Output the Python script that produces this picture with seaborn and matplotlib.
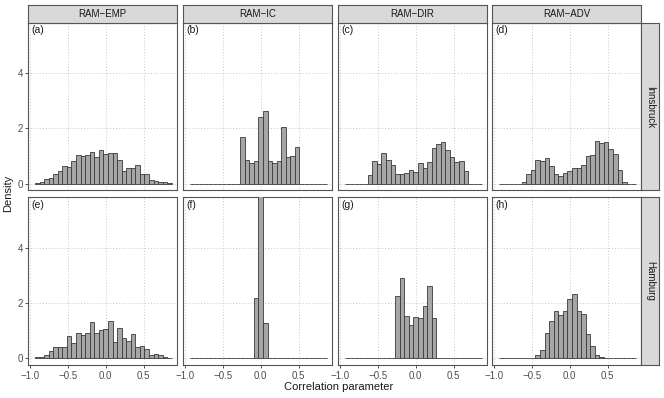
import numpy as np
import pandas as pd
import matplotlib
matplotlib.use("Agg")
import matplotlib.pyplot as plt
import seaborn as sns

# ---------------- data ----------------
methods = ["RAM\u2212EMP", "RAM\u2212IC", "RAM\u2212DIR", "RAM\u2212ADV"]
stations = ["Innsbruck", "Hamburg"]
tags = [["(a)", "(b)", "(c)", "(d)"], ["(e)", "(f)", "(g)", "(h)"]]

bin_centers = [-0.90, -0.84, -0.78, -0.72, -0.66, -0.60, -0.54, -0.48, -0.42, -0.36,
               -0.30, -0.24, -0.18, -0.12, -0.06, 0.00, 0.06, 0.12, 0.18, 0.24,
               0.30, 0.36, 0.42, 0.48, 0.54, 0.60, 0.66, 0.72, 0.78, 0.84]
bin_width = 0.06

innsbruck_emp = [0.03, 0.04, 0.15, 0.22, 0.34, 0.44, 0.62, 0.60, 0.81, 1.02,
                 0.99, 1.05, 1.15, 0.96, 1.22, 1.07, 1.11, 1.11, 0.86, 0.45,
                 0.55, 0.55, 0.69, 0.35, 0.35, 0.12, 0.11, 0.07, 0.05, 0.02]
innsbruck_ic = [0, 0, 0, 0, 0, 0, 0, 0, 0, 0,
                0, 1.68, 0.87, 0.76, 0.81, 2.40, 2.63, 0.81, 0.76, 0.81,
                2.05, 0.96, 1.01, 1.32, 0, 0, 0, 0, 0, 0]
innsbruck_dir = [0, 0, 0, 0, 0, 0.30, 0.82, 0.70, 1.12, 0.86,
                 0.69, 0.34, 0.34, 0.38, 0.50, 0.41, 0.75, 0.56, 0.78, 1.28,
                 1.42, 1.49, 1.20, 0.97, 0.80, 0.81, 0.47, 0, 0, 0]
innsbruck_adv = [0, 0, 0, 0, 0, 0.05, 0.36, 0.48, 0.84, 0.81,
                 0.93, 0.64, 0.34, 0.29, 0.39, 0.47, 0.55, 0.56, 0.69, 0.99,
                 1.02, 1.56, 1.48, 1.52, 1.25, 1.09, 0.50, 0.07, 0, 0]
hamburg_emp = [0.03, 0.05, 0.10, 0.27, 0.39, 0.39, 0.39, 0.81, 0.56, 0.92,
               0.85, 0.92, 1.31, 0.92, 1.02, 1.04, 1.36, 0.58, 1.10, 0.73,
               0.62, 0.86, 0.39, 0.45, 0.34, 0.13, 0.16, 0.10, 0.06, 0.01]
hamburg_ic = [0, 0, 0, 0, 0, 0, 0, 0, 0, 0,
              0, 0, 0, 0, 2.18, 6.50, 1.27, 0, 0, 0,
              0, 0, 0, 0, 0, 0, 0, 0, 0, 0]
hamburg_dir = [0, 0, 0, 0, 0, 0, 0, 0, 0, 0,
               0, 2.25, 2.90, 1.52, 1.20, 1.49, 1.45, 1.89, 2.62, 1.47,
               0, 0, 0, 0, 0, 0, 0, 0, 0, 0]
hamburg_adv = [0, 0, 0, 0, 0, 0, 0, 0, 0.10, 0.29,
               0.92, 1.33, 1.72, 1.58, 1.70, 2.13, 2.33, 1.71, 1.61, 0.88,
               0.44, 0.10, 0.05, 0, 0, 0, 0, 0, 0, 0]

densities = [[innsbruck_emp, innsbruck_ic, innsbruck_dir, innsbruck_adv],
             [hamburg_emp, hamburg_ic, hamburg_dir, hamburg_adv]]

x_ticks = [-1.0, -0.5, 0.0, 0.5]
y_ticks = [0, 2, 4]

# ---------------- style ----------------
sns.set_theme(style="white")
plt.rcParams["font.family"] = ["Liberation Sans", "DejaVu Sans"]

W, H = 664, 398
fig = plt.figure(figsize=(W / 100, H / 100), dpi=100)

def px_axes(x0, y0, w, h):
    return fig.add_axes([x0 / W, 1 - (y0 + h) / H, w / W, h / H])

col_left = [28.3, 183.3, 338.3, 492.3]
pw = 148.4
row_top = [22.7, 197.3]
ph = 167.8
edges = [round(b - bin_width / 2, 4) for b in bin_centers] + [round(bin_centers[-1] + bin_width / 2, 4)]

border_col = "#555555"
grid_col = "#C8C8C8"

for r in range(2):
    for c in range(4):
        ax = px_axes(col_left[c], row_top[r], pw, ph)
        df = pd.DataFrame({"center": bin_centers, "density": densities[r][c]})
        sns.histplot(data=df, x="center", weights="density", bins=edges,
                     stat="count", ax=ax, color="#A6A6A6", alpha=1.0,
                     edgecolor="#3A3A3A", linewidth=0.6, zorder=3)
        ax.set_xlim(-1.018, 0.934)
        ax.set_ylim(-0.25, 5.83)
        ax.set_xticks(x_ticks)
        ax.set_yticks(y_ticks)
        ax.grid(True, linestyle=(0, (1, 2)), color=grid_col, linewidth=0.7, zorder=0)
        ax.set_axisbelow(True)
        ax.set_xlabel("")
        ax.set_ylabel("")
        for s in ax.spines.values():
            s.set_color(border_col)
            s.set_linewidth(0.8)
        ax.tick_params(axis="both", length=2.5, width=0.6, color="#333333",
                       labelsize=7, labelcolor="#4D4D4D", pad=1.5,
                       bottom=(r == 1), left=(c == 0),
                       labelbottom=(r == 1), labelleft=(c == 0))
        ax.text(0.02, 0.985, tags[r][c], transform=ax.transAxes,
                ha="left", va="top", fontsize=7.5, color="#1A1A1A", zorder=5)

        if r == 0:
            sax = px_axes(col_left[c], 5.0, pw, 17.7)
            sax.set_facecolor("#D9D9D9")
            sax.set_xticks([]); sax.set_yticks([])
            for s in sax.spines.values():
                s.set_color(border_col); s.set_linewidth(0.8)
            sax.text(0.5, 0.5, methods[c], ha="center", va="center",
                     fontsize=7, color="#1A1A1A", transform=sax.transAxes)
    rax = px_axes(641.0, row_top[r], 17.5, ph)
    rax.set_facecolor("#D9D9D9")
    rax.set_xticks([]); rax.set_yticks([])
    for s in rax.spines.values():
        s.set_color(border_col); s.set_linewidth(0.8)
    rax.text(0.5, 0.5, stations[r], ha="center", va="center", rotation=-90,
             fontsize=7, color="#1A1A1A", transform=rax.transAxes)

fig.text(339 / W, 1 - 387 / H, "Correlation parameter", ha="center", va="center",
         fontsize=8, color="#1A1A1A")
fig.text(8 / W, 1 - 193 / H, "Density", ha="center", va="center", rotation=90,
         fontsize=8, color="#1A1A1A")

fig.savefig("out.png", dpi=100)
